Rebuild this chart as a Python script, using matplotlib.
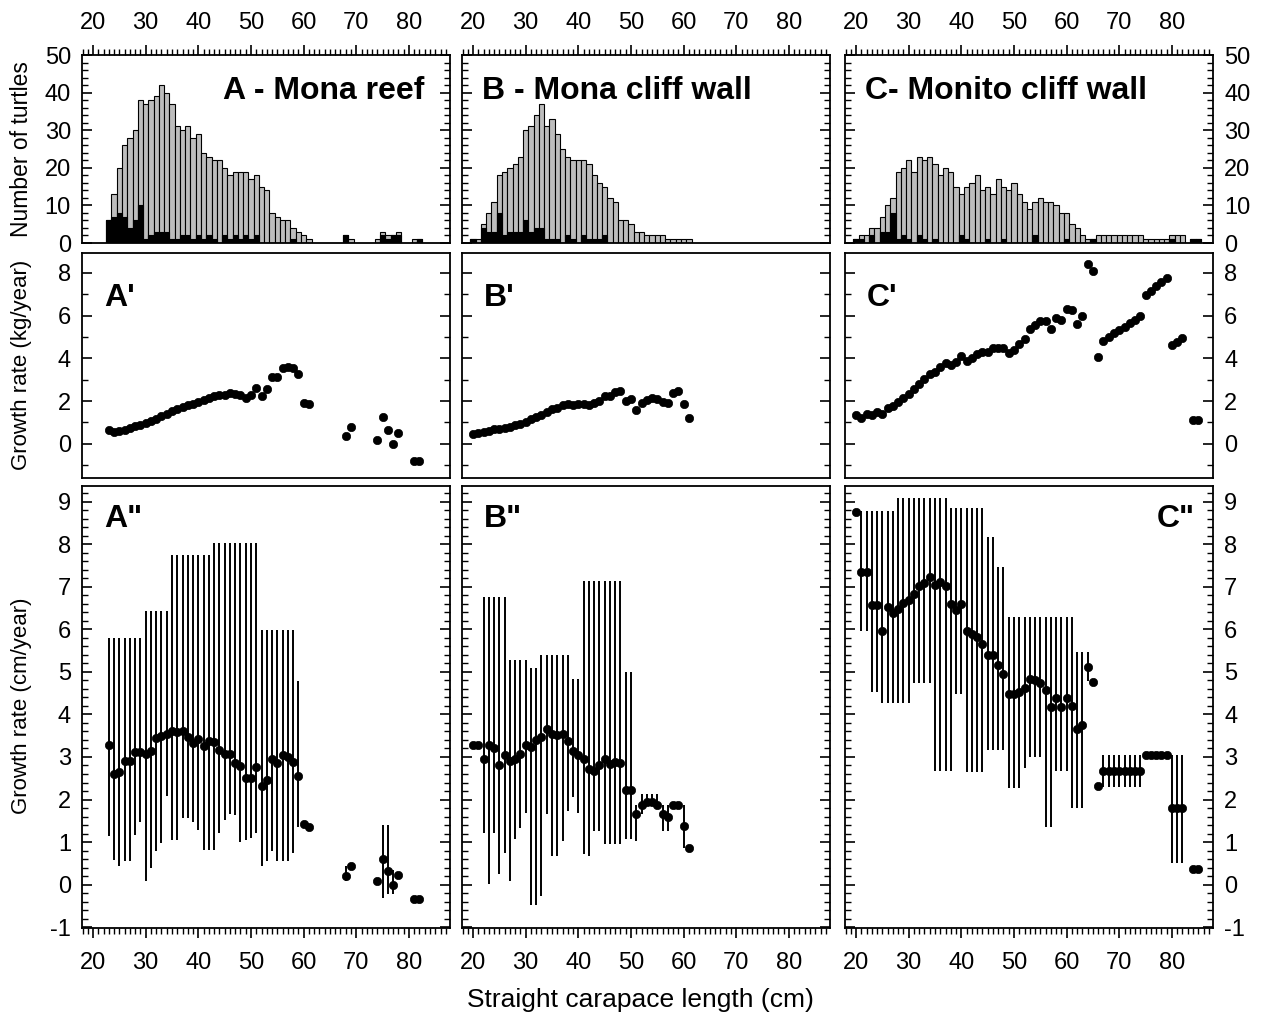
import matplotlib.pyplot as plt
from matplotlib.ticker import MultipleLocator
import numpy as np

plt.rcParams['font.family'] = ['Liberation Sans', 'DejaVu Sans']
plt.rcParams['axes.unicode_minus'] = False

nan = np.nan

# ---------------- A - Mona reef ----------------
a_bins = list(range(23, 62)) + [68, 69, 74, 75, 76, 77, 78, 81, 82]
a_total = [6, 13, 20, 26, 28, 30, 38, 37, 38, 39, 42, 40, 37, 31, 30, 31, 28, 29, 24, 23,
           22, 22, 20, 18, 19, 19, 19, 17, 18, 15, 14, 8, 7, 6, 6, 4, 3, 2, 1,
           2, 1, 1, 3, 2, 2, 3, 1, 1]
a_black = [6, 7, 8, 7, 4, 6, 10, 1, 2, 3, 3, 3, 1, 1, 2, 2, 1, 2, 1, 2,
           1, 0, 2, 1, 2, 1, 2, 1, 2, 0, 0, 0, 0, 0, 0, 1, 0, 0, 0,
           2, 0, 0, 2, 1, 2, 2, 0, 1]
a_kg = [0.63, 0.54, 0.58, 0.66, 0.74, 0.82, 0.90, 0.98, 1.06, 1.17, 1.29, 1.40, 1.53, 1.64,
        1.73, 1.81, 1.88, 1.96, 2.03, 2.16, 2.24, 2.29, 2.29, 2.37, 2.32, 2.29, 2.16, 2.29,
        2.63, 2.24, 2.55, 3.14, 3.14, 3.55, 3.58, 3.55, 3.26, 1.89, 1.85,
        0.38, 0.79, 0.19, 1.25, 0.66, 0.0, 0.50, -0.79, -0.79]
a_cm = [3.27, 2.61, 2.65, 2.90, 2.90, 3.12, 3.12, 3.06, 3.14, 3.45, 3.50, 3.53, 3.62, 3.58,
        3.60, 3.48, 3.33, 3.43, 3.26, 3.37, 3.35, 3.17, 3.08, 3.08, 2.86, 2.78, 2.51, 2.51,
        2.76, 2.31, 2.47, 2.96, 2.86, 3.04, 3.00, 2.88, 2.55, 1.43, 1.36,
        0.21, 0.44, 0.09, 0.60, 0.31, 0.0, 0.22, -0.33, -0.33]
a_cm_lo = [1.14, 0.58, 0.43, 0.55, 0.55, 1.17, 1.48, 0.08, 0.39, 0.78, 0.97, 2.08, 1.05, 1.05,
           1.56, 1.56, 1.48, 1.29, 0.82, 0.82, 0.82, 1.21, 1.52, 1.67, 1.64, 1.01, 1.05, 1.09,
           1.21, 0.43, 0.55, 0.78, 0.55, 0.55, 0.55, 0.74, 1.36, nan, nan,
           0.08, nan, nan, -0.31, -0.23, -0.23, nan, nan, nan]
a_cm_hi = [5.80] * 7 + [6.43] * 5 + [7.75] * 8 + [8.02] * 9 + [5.98] * 7 + [4.79, nan, nan] + \
          [0.43, nan, nan, 1.40, 1.40, 0.35, nan, nan, nan]

# ---------------- B - Mona cliff wall ----------------
b_bins = list(range(20, 62))
b_total = [1, 1, 5, 8, 11, 18, 19, 20, 21, 23, 30, 31, 34, 37, 31, 33, 29, 25, 23, 22,
           22, 22, 21, 18, 16, 15, 12, 11, 6, 6, 5, 3, 3, 2, 2, 2, 2, 1, 1, 1, 1, 1]
b_black = [1, 0, 4, 3, 3, 8, 2, 3, 3, 3, 6, 3, 4, 4, 1, 1, 1, 0, 2, 1,
           0, 2, 1, 1, 1, 2, 0, 0, 0, 0, 0, 0, 0, 0, 0, 0, 0, 0, 0, 0, 0, 0]
b_kg = [0.48, 0.52, 0.55, 0.62, 0.67, 0.67, 0.72, 0.80, 0.86, 0.94, 1.01, 1.14, 1.25, 1.37,
        1.50, 1.61, 1.69, 1.80, 1.84, 1.80, 1.84, 1.87, 1.80, 1.89, 2.00, 2.23, 2.23, 2.42,
        2.47, 2.00, 2.08, 1.58, 1.89, 2.05, 2.16, 2.12, 1.95, 1.92, 2.39, 2.47, 1.87, 1.19]
b_cm = [3.27, 3.27, 2.95, 3.28, 3.20, 2.80, 3.05, 2.91, 2.95, 3.06, 3.28, 3.24, 3.40, 3.48,
        3.65, 3.55, 3.51, 3.55, 3.37, 3.14, 3.05, 2.95, 2.72, 2.66, 2.80, 2.95, 2.83, 2.89,
        2.85, 2.23, 2.23, 1.65, 1.88, 1.94, 1.94, 1.87, 1.66, 1.59, 1.88, 1.88, 1.38, 0.87]
b_cm_lo = [nan, nan, 1.22, 0.02, 1.22, 0.25, 0.75, 0.09, 1.07, 1.34, 1.69, -0.49, -0.49, -0.26,
           1.65, 0.68, 0.68, 1.03, 1.73, 2.05, 1.69, 0.72, 0.68, 1.26, 1.26, 0.95, 0.95, 0.95,
           0.95, 1.07, 1.07, 1.03, 1.65, 1.88, 1.88, 1.80, 1.26, 1.26, nan, nan, 0.87, nan]
b_cm_hi = [nan, nan] + [6.77] * 5 + [5.29] * 4 + [5.09] * 2 + [5.40] * 6 + [4.84] * 2 + \
          [7.13] * 8 + [5.00] * 2 + [1.88, 2.12, 2.12, 2.12, 2.12, 1.88, 1.88, nan, nan, 1.88, nan]

# ---------------- C - Monito cliff wall ----------------
c_bins = list(range(20, 86))
c_total = [1, 2, 2, 4, 4, 7, 10, 12, 19, 20, 22, 19, 23, 22, 23, 21, 18, 20, 19, 15,
           13, 15, 16, 18, 14, 15, 13, 17, 15, 14, 16, 13, 11, 9, 11, 12, 11, 11, 10, 8,
           8, 5, 4, 2, 1, 1, 2, 2, 2, 2, 2, 2, 2, 2, 2, 1, 1, 1, 1, 1, 2, 2, 2, 0, 1, 1]
c_black = [1, 1, 0, 2, 0, 3, 3, 8, 1, 2, 1, 0, 2, 1, 0, 1, 0, 0, 0, 0,
           2, 1, 0, 0, 0, 1, 0, 0, 1, 0, 0, 0, 0, 0, 2, 0, 0, 0, 0, 0,
           1, 0, 0, 0, 0, 1, 0, 0, 0, 0, 0, 0, 0, 0, 0, 0, 0, 0, 0, 0, 1, 0, 0, 0, 1, 1]
c_pts = list(range(20, 83)) + [84, 85]
c_kg = [1.33, 1.22, 1.38, 1.33, 1.49, 1.41, 1.68, 1.77, 1.96, 2.15,
        2.35, 2.56, 2.78, 3.01, 3.25, 3.37, 3.61, 3.76, 3.69, 3.84,
        4.13, 3.87, 4.00, 4.19, 4.28, 4.28, 4.50, 4.50, 4.47, 4.24,
        4.39, 4.67, 4.91, 5.36, 5.57, 5.73, 5.73, 5.38, 5.88, 5.80,
        6.31, 6.27, 5.60, 5.96, 8.42, 8.11, 4.05, 4.82, 5.02, 5.18,
        5.33, 5.49, 5.65, 5.80, 5.96, 6.98, 7.17, 7.37, 7.58, 7.76,
        4.63, 4.78, 4.94, 1.10, 1.10]
c_cm = [8.76, 7.36, 7.36, 6.58, 6.58, 5.96, 6.52, 6.38, 6.48, 6.61,
        6.69, 6.82, 7.03, 7.08, 7.22, 7.05, 7.11, 7.03, 6.60, 6.46,
        6.60, 5.96, 5.88, 5.82, 5.66, 5.39, 5.39, 5.16, 4.96, 4.49,
        4.49, 4.53, 4.61, 4.84, 4.82, 4.74, 4.57, 4.18, 4.38, 4.18,
        4.38, 4.20, 3.65, 3.75, 5.12, 4.77, 2.31, 2.68, 2.68, 2.68,
        2.68, 2.68, 2.68, 2.68, 2.68, 3.05, 3.05, 3.05, 3.05, 3.05,
        1.80, 1.80, 1.80, 0.37, 0.37]
c_cm_lo = [nan, 5.96, 5.96, 4.53, 4.53] + [4.26] * 6 + [4.73] * 4 + [2.68] * 4 + [4.48] * 2 + \
          [2.64] * 4 + [3.17] * 4 + [2.27] * 3 + [2.74] + [3.01] * 3 + [1.36] * 2 + [2.68] * 3 + \
          [1.80] * 3 + [4.79, nan, nan] + [2.29] * 8 + [nan] * 5 + [0.50] * 3 + [nan, nan]
c_cm_hi = [nan] + [8.78] * 7 + [9.08] * 10 + [8.86] * 7 + [8.16] * 2 + [7.47] * 2 + \
          [6.29] * 13 + [5.47] * 3 + [nan, nan] + [3.05] * 8 + [nan] * 5 + [3.05] * 3 + [nan, nan]

hist_titles = ['A - Mona reef', 'B - Mona cliff wall', 'C- Monito cliff wall']
mid_titles = ["A'", "B'", "C'"]
bot_titles = ['A"', 'B"', 'C"']

W, H = 1263, 1022
fig = plt.figure(figsize=(W / 100, H / 100), dpi=100)

col_x = [82, 462, 845]
col_w = 368
rows = [(55, 243), (253, 478), (486, 928)]


def make_ax(c, r):
    x0 = col_x[c]
    top, bot = rows[r]
    return fig.add_axes([x0 / W, 1 - bot / H, col_w / W, (bot - top) / H])


def style(ax, c, r):
    ax.set_xlim(17.9, 87.8)
    ax.xaxis.set_major_locator(MultipleLocator(10))
    ax.xaxis.set_minor_locator(MultipleLocator(1))
    for s in ax.spines.values():
        s.set_linewidth(1.3)
    if r == 0:
        ax.tick_params(axis='x', which='both', top=True, bottom=False, labeltop=True,
                       labelbottom=False, direction='out', pad=8)
    elif r == 1:
        ax.tick_params(axis='x', which='both', top=False, bottom=False, labelbottom=False)
    else:
        ax.tick_params(axis='x', which='both', top=False, bottom=True, labelbottom=True,
                       direction='out', pad=10)
    ax.tick_params(axis='both', which='major', length=7, width=1.2, labelsize=17)
    ax.tick_params(axis='both', which='minor', length=4, width=1.0)
    ax.tick_params(axis='y', which='both', left=True, right=True, direction='in',
                   labelleft=(c == 0), labelright=(c == 2), pad=8)


hists = [(a_bins, a_total, a_black), (b_bins, b_total, b_black), (c_bins, c_total, c_black)]
mids = [(a_bins, a_kg), (b_bins, b_kg), (c_pts, c_kg)]
bots = [(a_bins, a_cm, a_cm_lo, a_cm_hi), (b_bins, b_cm, b_cm_lo, b_cm_hi),
        (c_pts, c_cm, c_cm_lo, c_cm_hi)]

for c in range(3):
    # histogram
    ax = make_ax(c, 0)
    bins, tot, blk = hists[c]
    ax.bar(bins, tot, width=1.0, color='#bdbdbd', edgecolor='black', linewidth=0.8)
    ax.bar(bins, blk, width=1.0, color='black', edgecolor='black', linewidth=0.8)
    ax.set_ylim(0, 50)
    ax.yaxis.set_major_locator(MultipleLocator(10))
    ax.yaxis.set_minor_locator(MultipleLocator(2))
    style(ax, c, 0)
    if c == 0:
        ax.text(0.93, 0.81, hist_titles[c], transform=ax.transAxes, ha='right', va='center',
                fontsize=23, fontweight='bold')
    else:
        ax.text(0.055, 0.81, hist_titles[c], transform=ax.transAxes, ha='left', va='center',
                fontsize=23, fontweight='bold')

    # growth rate in mass
    ax = make_ax(c, 1)
    x, y = mids[c]
    ax.plot(x, y, 'o', color='black', ms=6, mew=0.5)
    ax.set_ylim(-1.6, 8.93)
    ax.yaxis.set_major_locator(MultipleLocator(2))
    ax.yaxis.set_minor_locator(MultipleLocator(1))
    style(ax, c, 1)
    ax.text(0.06, 0.80, mid_titles[c], transform=ax.transAxes, ha='left', va='center',
            fontsize=23, fontweight='bold')

    # growth rate in length
    ax = make_ax(c, 2)
    x, y, lo, hi = bots[c]
    x = np.array(x, dtype=float)
    lo = np.array(lo, dtype=float)
    hi = np.array(hi, dtype=float)
    m = ~np.isnan(lo) & ~np.isnan(hi)
    ax.vlines(x[m], lo[m], hi[m], colors='black', linewidth=1.4)
    ax.plot(x, y, 'o', color='black', ms=6, mew=0.5)
    ax.set_ylim(-1.02, 9.37)
    ax.yaxis.set_major_locator(MultipleLocator(1))
    ax.yaxis.set_minor_locator(MultipleLocator(0.2))
    style(ax, c, 2)
    if c == 2:
        ax.text(0.95, 0.925, bot_titles[c], transform=ax.transAxes, ha='right', va='center',
                fontsize=23, fontweight='bold')
    else:
        ax.text(0.06, 0.925, bot_titles[c], transform=ax.transAxes, ha='left', va='center',
                fontsize=23, fontweight='bold')

fig.text(22 / W, 1 - 149 / H, 'Number of turtles', rotation=90, ha='center', va='center',
         fontsize=16.5)
fig.text(22 / W, 1 - 365 / H, 'Growth rate (kg/year)', rotation=90, ha='center', va='center',
         fontsize=16)
fig.text(22 / W, 1 - 706 / H, 'Growth rate (cm/year)', rotation=90, ha='center', va='center',
         fontsize=16)
fig.text(640 / W, 1 - 1000 / H, 'Straight carapace length (cm)', ha='center', va='center',
         fontsize=19)

fig.savefig('out.png', dpi=100)
